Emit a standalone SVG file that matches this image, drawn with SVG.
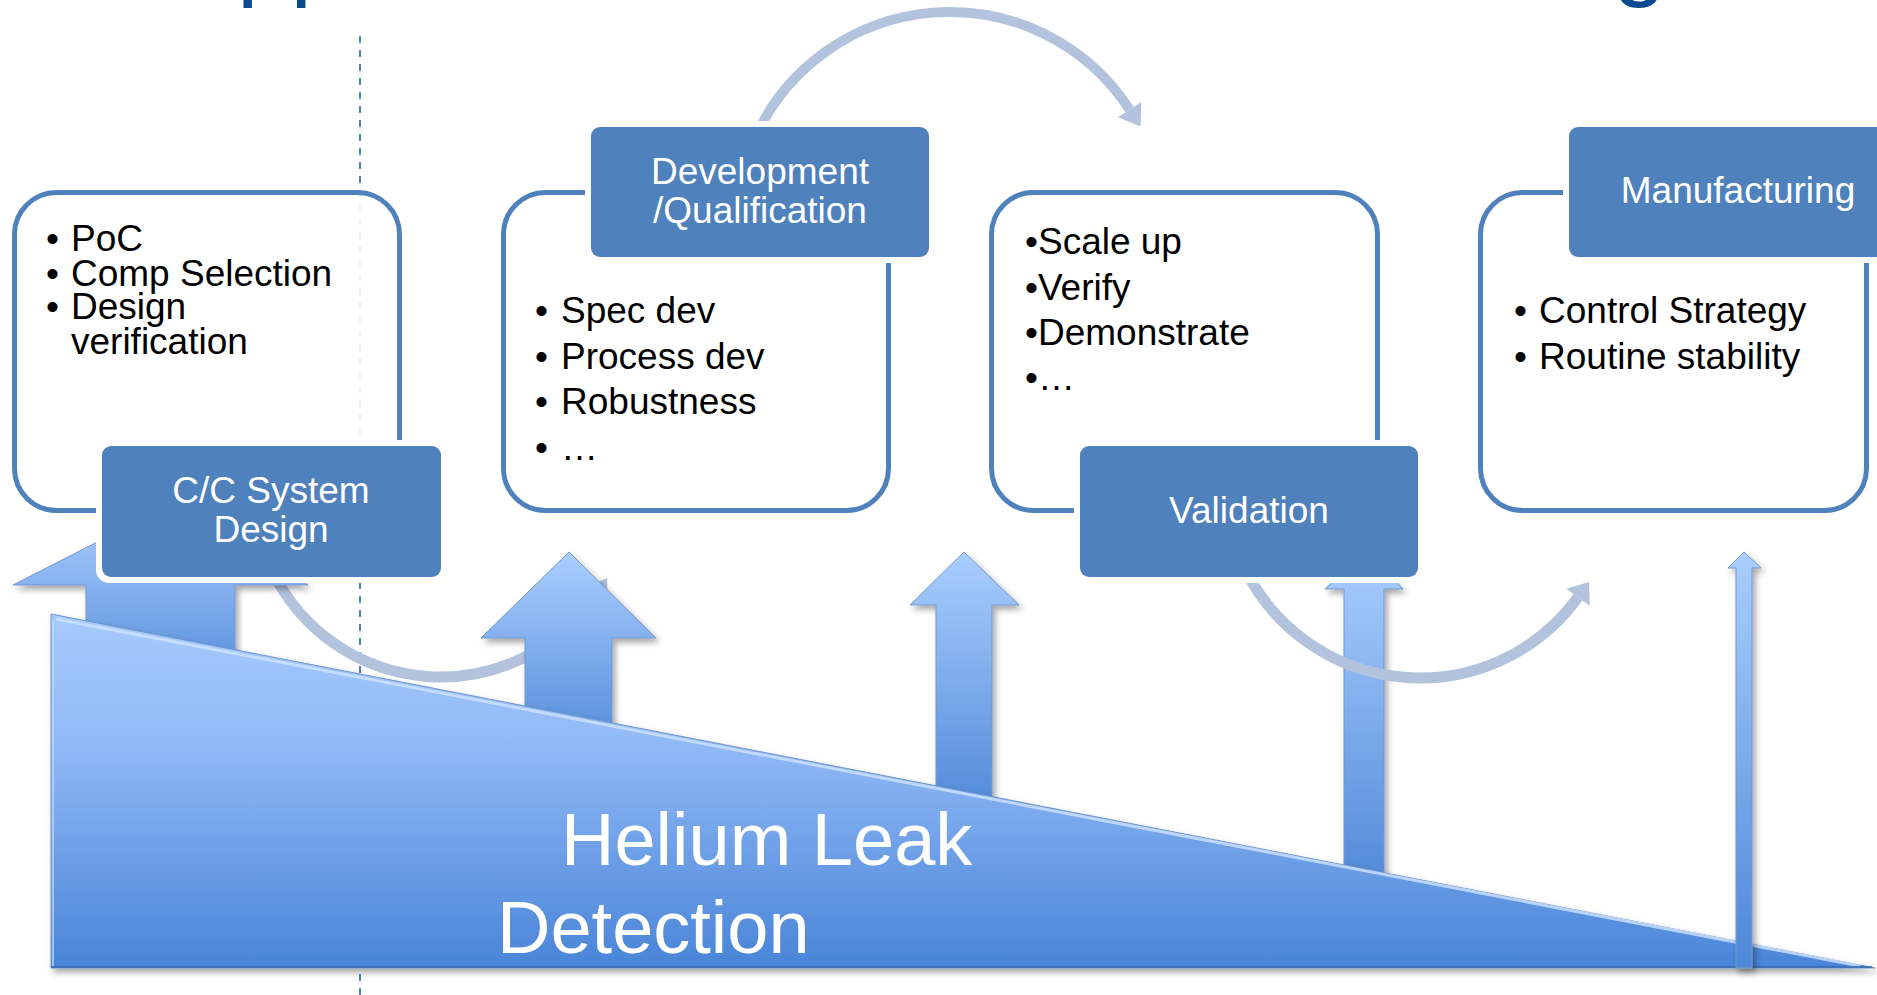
<svg xmlns="http://www.w3.org/2000/svg" width="1877" height="995" viewBox="0 0 1877 995">
<defs>
<style>
.box{fill:#fff;fill-opacity:0.88;stroke:#4F81BD;stroke-width:5}
.lblw{fill:#fff}
.lbl{fill:#4F81BD}
.lt{font-family:"Liberation Sans",Arial,sans-serif;font-size:37px;fill:#fff;text-anchor:middle}
.bt{font-family:"Liberation Sans",Arial,sans-serif;font-size:37px;fill:#000}
.arc{fill:none;stroke:#B3C3DE}
.ah{fill:#B3C3DE}
.arrow{fill:url(#gArrow);stroke:#7198CF;stroke-width:1;filter:url(#sh)}
.title{font-family:"Liberation Sans",Arial,sans-serif;font-size:96px;fill:#0B4A8E}
</style>
<linearGradient id="gArrow" x1="0" y1="0" x2="0" y2="1">
<stop offset="0" stop-color="#AACEFF"/>
<stop offset="1" stop-color="#4E87D7"/>
</linearGradient>
<linearGradient id="gTri" gradientUnits="userSpaceOnUse" x1="0" y1="614" x2="0" y2="968">
<stop offset="0" stop-color="#A6CAFD"/>
<stop offset="0.35" stop-color="#92BAF7"/>
<stop offset="1" stop-color="#4985D7"/>
</linearGradient>
<filter id="sh" x="-20%" y="-10%" width="150%" height="130%">
<feDropShadow dx="3" dy="4" stdDeviation="3" flood-color="#000" flood-opacity="0.35"/>
</filter>
</defs>

<g id="title-fragments">
<text class="title" x="237" y="-12">pp</text>
<text class="title" x="1613" y="-12">g</text>
</g>

<line id="divider" x1="360" y1="36" x2="360" y2="995" stroke="#4F81BD" stroke-width="2" stroke-dasharray="7 7"/>

<g id="connectors">
<path class="arc" stroke-width="10" d="M754,140 A214,214 0 0 1 1129.6,109.6"/>
<polygon class="ah" points="1141.3,102 1117.9,117.2 1140.5,126.4"/>
</g>

<g id="box-design">
<rect class="box" x="14.5" y="192.5" width="385" height="318" rx="42"/>
<text class="bt" y="251"><tspan x="46">•</tspan><tspan x="71">PoC</tspan></text>
<text class="bt" y="286"><tspan x="46">•</tspan><tspan x="71">Comp Selection</tspan></text>
<text class="bt" y="319"><tspan x="46">•</tspan><tspan x="71">Design</tspan></text>
<text class="bt" x="71" y="354">verification</text>
</g>

<g id="box-development">
<rect class="box" x="503.5" y="192.5" width="385" height="318" rx="42"/>
<text class="bt" y="323"><tspan x="535">•</tspan><tspan x="561">Spec dev</tspan></text>
<text class="bt" y="369"><tspan x="535">•</tspan><tspan x="561">Process dev</tspan></text>
<text class="bt" y="414"><tspan x="535">•</tspan><tspan x="561">Robustness</tspan></text>
<text class="bt" y="460"><tspan x="535">•</tspan><tspan x="561">…</tspan></text>
</g>

<g id="box-validation">
<rect class="box" x="991.5" y="192.5" width="386" height="318" rx="42"/>
<text class="bt" x="1025" y="254">•Scale up</text>
<text class="bt" x="1025" y="300">•Verify</text>
<text class="bt" x="1025" y="345">•Demonstrate</text>
<text class="bt" x="1025" y="390">•…</text>
</g>

<g id="box-manufacturing">
<rect class="box" x="1480.5" y="192.5" width="386" height="318" rx="42"/>
<text class="bt" y="323"><tspan x="1514">•</tspan><tspan x="1539">Control Strategy</tspan></text>
<text class="bt" y="369"><tspan x="1514">•</tspan><tspan x="1539">Routine stability</tspan></text>
</g>

<g id="connectors-lower">
<path class="arc" stroke-width="11" d="M272,570 A187,187 0 0 0 596,594.6"/>
<polygon class="ah" points="607.6,602.4 584.4,586.8 607.2,578"/>
</g>

<g id="up-arrows">
<path id="arrow1" class="arrow" d="M160,510 L308,585 L235,585 L235,700 L86,700 L86,585 L13,585 Z"/>
<path id="arrow2" class="arrow" d="M569,552 L656,638 L612,638 L612,760 L525,760 L525,638 L481,638 Z"/>
<path id="arrow3" class="arrow" d="M964,552 L1019,605 L992,605 L992,820 L936,820 L936,605 L910,605 Z"/>
<path id="arrow4" class="arrow" d="M1364,551 L1403,589 L1384,589 L1384,900 L1344,900 L1344,589 L1325,589 Z"/>
</g>

<g id="connectors-lower2">
<path class="arc" stroke-width="11" d="M1245.5,570 A195,195 0 0 0 1578,597.3"/>
<polygon class="ah" points="1589.7,605.8 1566.3,588.8 1589.1,581.9"/>
</g>

<g id="helium-leak-detection">
<polygon points="51,614 51,968 1875,968" fill="url(#gTri)" stroke="#6F95CC" stroke-width="1" filter="url(#sh)"/>
<line x1="56" y1="619" x2="1860" y2="966" stroke="#CFE4FF" stroke-width="3" opacity="0.8"/>
<line x1="53" y1="620" x2="53" y2="966" stroke="#C2DBFF" stroke-width="2" opacity="0.7"/>
<line x1="51" y1="967" x2="1872" y2="967" stroke="#3C6CB4" stroke-width="2" opacity="0.8"/>
<text x="561" y="865" font-family="'Liberation Sans',Arial,sans-serif" font-size="74" fill="#fff">Helium Leak</text>
<text x="497" y="953" font-family="'Liberation Sans',Arial,sans-serif" font-size="74" fill="#fff">Detection</text>
</g>

<path id="arrow5" class="arrow" d="M1744,552 L1761,568 L1752,568 L1752,968 L1736,968 L1736,568 L1728,568 Z"/>

<g id="label-cc-system-design">
<rect class="lblw" x="96" y="440" width="351" height="143" rx="13"/>
<rect class="lbl" x="102" y="446" width="339" height="131" rx="9"/>
<text class="lt" x="271" y="503">C/C System</text>
<text class="lt" x="271" y="542">Design</text>
</g>

<g id="label-development">
<rect class="lblw" x="585" y="121" width="350" height="142" rx="13"/>
<rect class="lbl" x="591" y="127" width="338" height="130" rx="9"/>
<text class="lt" x="760" y="184">Development</text>
<text class="lt" x="760" y="223">/Qualification</text>
</g>

<g id="label-validation">
<rect class="lblw" x="1074" y="440" width="350" height="143" rx="13"/>
<rect class="lbl" x="1080" y="446" width="338" height="131" rx="9"/>
<text class="lt" x="1249" y="523">Validation</text>
</g>

<g id="label-manufacturing">
<rect class="lblw" x="1563" y="121" width="350" height="142" rx="13"/>
<rect class="lbl" x="1569" y="127" width="338" height="130" rx="9"/>
<text class="lt" x="1738" y="203">Manufacturing</text>
</g>
</svg>
